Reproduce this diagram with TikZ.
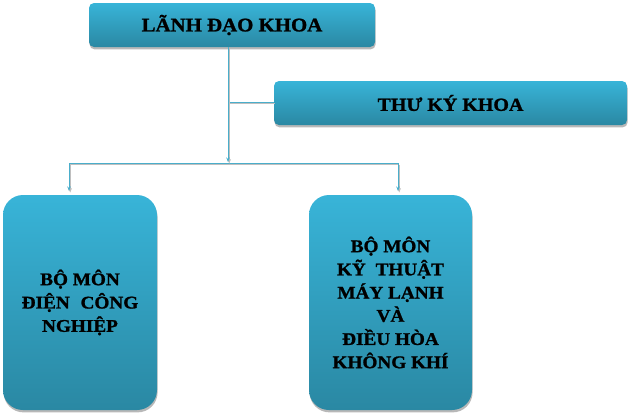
\documentclass[tikz,border=0pt]{standalone}
\usepackage{fontspec}
\setmainfont{Liberation Serif}
\newfontfamily\heavy{Liberation Serif}[BoldFeatures={FakeBold=1.2,FakeStretch=1.08}]
\usetikzlibrary{shadows,arrows.meta}
\definecolor{boxtop}{HTML}{38B4D8}
\definecolor{boxbot}{HTML}{2A88A3}
\definecolor{linec}{HTML}{4AAECB}
\tikzset{
  box/.style={draw=none, top color=boxtop, bottom color=boxbot, inner sep=0pt,
    align=center, font=\heavy\bfseries\fontsize{19.3}{22}\selectfont,
    drop shadow={shadow xshift=0.6pt, shadow yshift=-2.4pt, fill=black!35, opacity=0.8}},
  conn/.style={draw=linec, line width=0.9pt,
    preaction={draw=black!25, line width=0.9pt, transform canvas={xshift=1.2pt,yshift=-1.6pt}}},
  tip/.style={-{Stealth[length=4.5pt,width=3.5pt]}}
}
\begin{document}
\begin{tikzpicture}[x=1pt,y=-1pt]
\useasboundingbox (0,0) rectangle (630,413);
\node[box, rounded corners=5pt, minimum width=286pt, minimum height=44pt] (lead) at (232,25) {LÃNH ĐẠO KHOA};
\node[box, rounded corners=5pt, minimum width=353pt, minimum height=44pt,
  font=\heavy\bfseries\fontsize{18.5}{22}\selectfont] (sec) at (450.5,103) {THƯ KÝ KHOA};
\node[box, rounded corners=20pt, minimum width=154pt, minimum height=215pt,
  font=\heavy\bfseries\fontsize{17.8}{23.3}\selectfont] (left) at (80,302.5) {BỘ MÔN\\ĐIỆN\hspace{6pt} CÔNG\\NGHIỆP};
\node[box, rounded corners=20pt, minimum width=163pt, minimum height=215pt,
  font=\heavy\bfseries\fontsize{17.8}{23.2}\selectfont] (right) at (390.5,302.5) {BỘ MÔN\\KỸ\hspace{5pt} THUẬT\\MÁY LẠNH\\VÀ\\ĐIỀU HÒA\\KHÔNG KHÍ};
\coordinate (vtop) at (228,47);
\coordinate (vmid) at (228,102);
\coordinate (vbus) at (228,162);
\coordinate (bl) at (69,163);
\coordinate (br) at (398,163);
\coordinate (al) at (69,191);
\coordinate (ar) at (398,191);
\draw[conn] (vmid) -- (sec.west |- vmid);
\draw[conn] (bl) -- (br);
\draw[conn, tip] (vtop) -- (vbus);
\draw[conn, tip] (bl) -- (al);
\draw[conn, tip] (br) -- (ar);
\end{tikzpicture}
\end{document}
